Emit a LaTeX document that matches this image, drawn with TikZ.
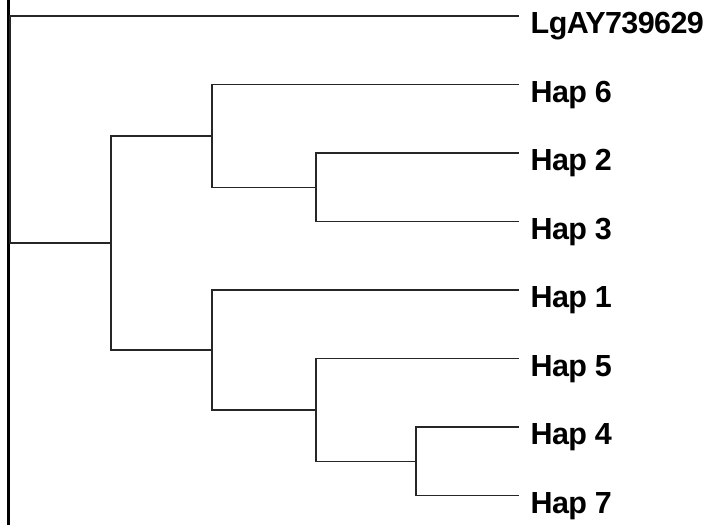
\documentclass[tikz,border=0pt]{standalone}
\usepackage{fontspec}
\setmainfont{Liberation Sans}
\newfontfamily\leaffont[LetterSpace=-2]{Liberation Sans}
\begin{document}
\begin{tikzpicture}[x=1pt,y=-1pt,
  branch/.style={draw=black!85,line width=1.3pt},
  leaflabel/.style={anchor=base west,inner sep=0pt,font=\leaffont\bfseries\fontsize{30.5}{32}\selectfont}]
\useasboundingbox (0,0) rectangle (705,525);
\fill[white] (0,0) rectangle (705,525);
% left border
\coordinate (btop) at (8.5,0);
\coordinate (bbot) at (8.5,525);
\draw[line width=2.2pt,black] (btop) -- (bbot);
% leaf tips
\coordinate (tLg) at (519,16);
\coordinate (t6) at (519,84.5);
\coordinate (t2) at (519,153);
\coordinate (t3) at (519,221.5);
\coordinate (t1) at (519,290);
\coordinate (t5) at (519,358.5);
\coordinate (t4) at (519,427);
\coordinate (t7) at (519,495.5);
% labels
\node[leaflabel] (lLg) at (530.5,33.8) {LgAY739629};
\node[leaflabel] (l6) at (530.5,102.3) {Hap 6};
\node[leaflabel] (l2) at (530.5,170.8) {Hap 2};
\node[leaflabel] (l3) at (530.5,239.3) {Hap 3};
\node[leaflabel] (l1) at (530.5,307.8) {Hap 1};
\node[leaflabel] (l5) at (530.5,376.3) {Hap 5};
\node[leaflabel] (l4) at (530.5,444.8) {Hap 4};
\node[leaflabel] (l7) at (530.5,513.3) {Hap 7};
% internal nodes
\coordinate (n23) at (316,187.25);
\coordinate (n6) at (212,135.9);
\coordinate (n47) at (416,461.25);
\coordinate (n5) at (316,409.9);
\coordinate (n1) at (212,349.9);
\coordinate (nA) at (111,242.9);
\coordinate (root) at (10,129.5);
% branches
\draw[branch] (root) |- (tLg);
\draw[branch] (root) |- (nA);
\draw[branch] (nA) |- (n6);
\draw[branch] (nA) |- (n1);
\draw[branch] (n6) |- (t6);
\draw[branch] (n6) |- (n23);
\draw[branch] (n23) |- (t2);
\draw[branch] (n23) |- (t3);
\draw[branch] (n1) |- (t1);
\draw[branch] (n1) |- (n5);
\draw[branch] (n5) |- (t5);
\draw[branch] (n5) |- (n47);
\draw[branch] (n47) |- (t4);
\draw[branch] (n47) |- (t7);
\end{tikzpicture}
\end{document}
